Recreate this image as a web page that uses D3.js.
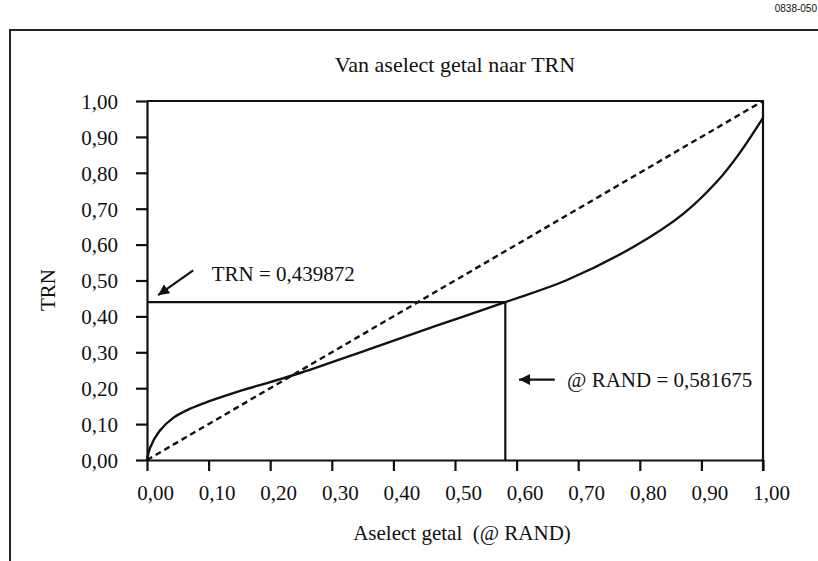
<!DOCTYPE html>
<html>
<head>
<meta charset="utf-8">
<script src="https://cdn.jsdelivr.net/npm/d3@7"></script>
<style>
  body { margin: 0; background: #fff; }
  svg text { font-family: "Liberation Serif", "Times New Roman", Times, serif; fill: #111; }
</style>
</head>
<body>
<div id="chart"></div>
<script>
// Values
const randX = [0, 0.005, 0.02, 0.043, 0.07, 0.1, 0.15, 0.2, 0.25, 0.36, 0.47, 0.581675, 0.68, 0.79, 0.87, 0.925, 0.96, 1];
const trnY = [0, 0.034, 0.08, 0.118, 0.143, 0.163, 0.192, 0.217, 0.243, 0.308, 0.374, 0.439872, 0.5, 0.594, 0.685, 0.775, 0.85, 0.953];
const tickValues = [0, 0.1, 0.2, 0.3, 0.4, 0.5, 0.6, 0.7, 0.8, 0.9, 1];
const pickRand = 0.581675;
const pickTrn = 0.439872;

const width = 818;
const height = 561;

const svg = d3.select('#chart')
  .append('svg')
  .attr('width', width)
  .attr('height', height);

// outer frame (top and left edges only) and figure code
svg.append('path')
  .attr('d', 'M10,561 V30 H818')
  .attr('fill', 'none')
  .attr('stroke', '#222')
  .attr('stroke-width', 2);

svg.append('text')
  .attr('x', 817)
  .attr('y', 12)
  .attr('text-anchor', 'end')
  .style('font-family', '"Liberation Sans", Arial, sans-serif')
  .attr('font-size', 10)
  .text('0838-050');

const x = d3.scaleLinear().domain([0, 1]).range([147, 763]);
const y = d3.scaleLinear().domain([0, 1]).range([460, 101]);
const fmt = d => d3.format('.2f')(d).replace('.', ',');

// title
svg.append('text')
  .attr('x', 455)
  .attr('y', 72)
  .attr('text-anchor', 'middle')
  .attr('font-size', 22)
  .text('Van aselect getal naar TRN');

// axes
const xAxis = svg.append('g')
  .attr('transform', `translate(0,${y(0)})`)
  .call(d3.axisBottom(x).tickValues(tickValues).tickSize(11).tickSizeOuter(0).tickFormat(fmt));

const yAxis = svg.append('g')
  .attr('transform', `translate(${x(0)},0)`)
  .call(d3.axisLeft(y).tickValues(tickValues).tickSize(11).tickSizeOuter(0).tickFormat(fmt));

[xAxis, yAxis].forEach(g => {
  g.selectAll('path, line').attr('stroke', '#111').attr('stroke-width', 2.2);
  g.selectAll('text').attr('font-size', 21).attr('fill', '#111')
    .style('font-family', '"Liberation Serif", "Times New Roman", Times, serif');
});
xAxis.selectAll('text').attr('dy', '1.25em').attr('dx', 8);
yAxis.selectAll('text').attr('x', -29).attr('dy', '0.35em');

// top and right edges of the plot box
svg.append('path')
  .attr('d', `M${x(0)},${y(1)} H${x(1)} V${y(0) + 11}`)
  .attr('fill', 'none')
  .attr('stroke', '#111')
  .attr('stroke-width', 2.2);

// axis titles
svg.append('text')
  .attr('x', 462)
  .attr('y', 540)
  .attr('text-anchor', 'middle')
  .attr('font-size', 21)
  .style('white-space', 'pre')
  .text('Aselect getal  (@ RAND)');

svg.append('text')
  .attr('transform', 'translate(55,290) rotate(-90)')
  .attr('text-anchor', 'middle')
  .attr('font-size', 21)
  .text('TRN');

// diagonal reference line
svg.append('line')
  .attr('x1', x(0)).attr('y1', y(0))
  .attr('x2', x(1)).attr('y2', y(1))
  .attr('stroke', '#111')
  .attr('stroke-width', 2.4)
  .attr('stroke-dasharray', '6,4');

// curve
const pts = randX.map((v, i) => [v, trnY[i]]);
svg.append('path')
  .datum(pts)
  .attr('fill', 'none')
  .attr('stroke', '#111')
  .attr('stroke-width', 2.4)
  .attr('d', d3.line().x(d => x(d[0])).y(d => y(d[1])).curve(d3.curveCatmullRom.alpha(0.5)));

// pick lines
svg.append('path')
  .attr('d', `M${x(0)},${y(pickTrn)} H${x(pickRand)} V${y(0)}`)
  .attr('fill', 'none')
  .attr('stroke', '#111')
  .attr('stroke-width', 2.2);

// arrows
svg.append('defs').append('marker')
  .attr('id', 'head')
  .attr('viewBox', '0 0 10 10')
  .attr('refX', 10).attr('refY', 5)
  .attr('markerWidth', 6).attr('markerHeight', 5)
  .attr('markerUnits', 'strokeWidth')
  .attr('orient', 'auto')
  .append('path')
  .attr('d', 'M0,0 L10,5 L0,10 Z')
  .attr('fill', '#111');

function arrow(x1, y1, x2, y2) {
  svg.append('line')
    .attr('x1', x(x1)).attr('y1', y(y1))
    .attr('x2', x(x2)).attr('y2', y(y2))
    .attr('stroke', '#111')
    .attr('stroke-width', 2.2)
    .attr('marker-end', 'url(#head)');
}
arrow(0.075, 0.528, 0.018, 0.459);
arrow(0.662, 0.224, 0.604, 0.224);

svg.append('text')
  .attr('x', x(0.105))
  .attr('y', y(0.5))
  .attr('font-size', 21)
  .text('TRN = ' + String(pickTrn).replace('.', ','));

svg.append('text')
  .attr('x', x(0.682))
  .attr('y', y(0.203))
  .attr('font-size', 21)
  .text('@ RAND = ' + String(pickRand).replace('.', ','));
</script>
</body>
</html>
